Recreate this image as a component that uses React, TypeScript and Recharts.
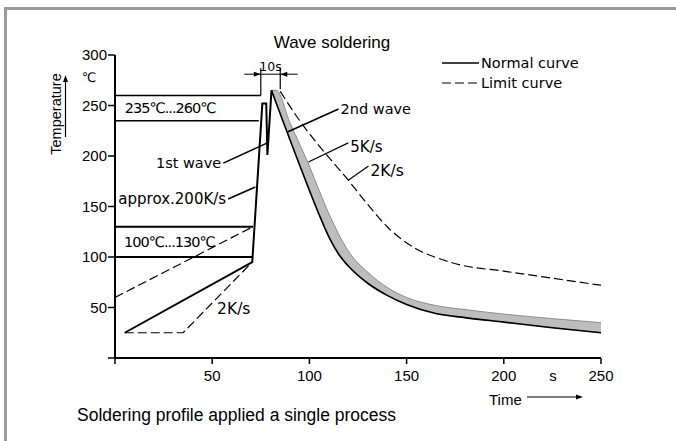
import React from 'react';
import { ComposedChart, Line, Area, XAxis, YAxis, ReferenceLine, ReferenceDot } from 'recharts';

// normal curve: preheat ramp, 1st wave spike, 2nd wave peak
const heatT = [5, 70.6, 75.8, 77.8, 78.4, 80.5];
const heatV = [25, 95, 252, 252, 201, 265];

// cooling band (lower edge = normal curve)
const bandT = [80.5, 83, 90, 100, 105, 110, 115, 120, 130, 140, 150, 165, 180, 200, 225, 250];
const bandLow = [265, 252, 216, 166, 142, 120, 103, 91, 74, 62, 53, 44, 40, 35.5, 30, 25];
const bandHigh = [265, 265, 233, 190, 166, 143, 123, 106, 85, 70, 60, 52, 48, 43.5, 39, 35];

// limit curves (dashed)
const limitPreT = [0, 71];
const limitPreV = [60, 130];
const limitLowT = [5, 35, 70.6];
const limitLowV = [25, 25, 95];
const limitCoolT = [85, 95, 105, 120, 130, 140, 155, 169, 178, 200, 225, 250];
const limitCoolV = [264, 235, 210, 176, 152, 130, 108, 97, 92, 86, 79, 72];

const xTicks = [0, 50, 100, 150, 200, 250];
const yTicks = [0, 50, 100, 150, 200, 250, 300];

const toRows = (ts: number[], vs: number[]) => ts.map((t, i) => ({ t, v: vs[i] }));
const heatData = toRows(heatT, heatV);
const coolData = toRows(bandT, bandLow);
const bandData = bandT.map((t, i) => ({ t, v: [bandLow[i], bandHigh[i]] }));
const limitPre = toRows(limitPreT, limitPreV);
const limitLow = toRows(limitLowT, limitLowV);
const limitCool = toRows(limitCoolT, limitCoolV);

const TECH = 'DejaVu Sans, sans-serif';
const ARIAL = 'Liberation Sans, Arial, sans-serif';
const DASH = '9 4';

function arrowHead(x1: number, y1: number, x2: number, y2: number, len = 7, half = 2.5) {
  const a = Math.atan2(y2 - y1, x2 - x1);
  const bx = x2 - len * Math.cos(a);
  const by = y2 - len * Math.sin(a);
  const px = -Math.sin(a) * half;
  const py = Math.cos(a) * half;
  return `${x2},${y2} ${bx + px},${by + py} ${bx - px},${by - py}`;
}

const ArrowLine = (p: any) => (
  <g>
    <line x1={p.x1} y1={p.y1} x2={p.x2} y2={p.y2} stroke="#000" strokeWidth={1} />
    <polygon points={arrowHead(p.x1, p.y1, p.x2, p.y2)} fill="#000" />
  </g>
);

const seg = (x1: number, y1: number, x2: number, y2: number) => [{ x: x1, y: y1 }, { x: x2, y: y2 }];

const note = (x: number, y: number, text: string, position: 'left' | 'right' | 'top', fontSize = 14.5, letterSpacing = 0) => (
  <ReferenceDot
    key={text + x}
    x={x}
    y={y}
    r={0}
    fill="none"
    stroke="none"
    ifOverflow="visible"
    label={{ value: text, position, offset: 2, fontSize, letterSpacing, fill: '#000', fontFamily: TECH }}
  />
);

export default function App() {
  return (
    <div style={{ position: 'absolute', left: 0, top: 0, width: 676, height: 441, background: '#fff' }}>
      <ComposedChart width={676} height={441} margin={{ top: 55, right: 75, left: 75, bottom: 53 }}>
        <XAxis
          type="number"
          dataKey="t"
          domain={[0, 250]}
          ticks={xTicks}
          allowDataOverflow
          height={30}
          tickSize={6}
          tickMargin={6}
          tickFormatter={(v) => (v === 0 ? '' : String(v))}
          axisLine={{ stroke: '#000', strokeWidth: 2 }}
          tickLine={{ stroke: '#000', strokeWidth: 1.5 }}
          tick={{ fill: '#000', fontSize: 15, fontFamily: ARIAL }}
        />
        <YAxis
          type="number"
          domain={[0, 300]}
          ticks={yTicks}
          width={40}
          tickSize={7}
          tickMargin={1}
          tickFormatter={(v) => (v === 0 ? '' : String(v))}
          axisLine={{ stroke: '#000', strokeWidth: 2 }}
          tickLine={{ stroke: '#000', strokeWidth: 1.5 }}
          tick={{ fill: '#000', fontSize: 15, fontFamily: ARIAL }}
        />

        {/* temperature windows */}
        <ReferenceLine segment={seg(0, 260, 75, 260)} stroke="#000" strokeWidth={1.5} ifOverflow="visible" />
        <ReferenceLine segment={seg(0, 235, 74, 235)} stroke="#000" strokeWidth={1.5} ifOverflow="visible" />
        <ReferenceLine segment={seg(0, 130, 71, 130)} stroke="#000" strokeWidth={2} ifOverflow="visible" />
        <ReferenceLine segment={seg(0, 100, 70.6, 100)} stroke="#000" strokeWidth={2} ifOverflow="visible" />

        {/* 10s dimension */}
        <ReferenceLine segment={seg(75, 260, 75, 287)} stroke="#000" strokeWidth={1.2} ifOverflow="visible" />
        <ReferenceLine segment={seg(85, 266, 85, 287)} stroke="#000" strokeWidth={1.2} ifOverflow="visible" />
        <ReferenceLine segment={seg(75, 281, 85, 281)} stroke="#000" strokeWidth={1} ifOverflow="visible" />
        <ReferenceLine segment={seg(66.5, 281, 75, 281)} shape={ArrowLine} ifOverflow="visible" />
        <ReferenceLine segment={seg(94, 281, 85, 281)} shape={ArrowLine} ifOverflow="visible" />

        <Area data={bandData} dataKey="v" type="monotone" fill="#bdbdbd" fillOpacity={1} stroke="#7a7a7a" strokeWidth={0.8} isAnimationActive={false} />

        <Line data={limitPre} dataKey="v" type="linear" stroke="#000" strokeWidth={1.2} strokeDasharray={DASH} dot={false} isAnimationActive={false} />
        <Line data={limitLow} dataKey="v" type="linear" stroke="#000" strokeWidth={1.2} strokeDasharray={DASH} dot={false} isAnimationActive={false} />
        <Line data={limitCool} dataKey="v" type="monotone" stroke="#000" strokeWidth={1.2} strokeDasharray={DASH} dot={false} isAnimationActive={false} />

        <Line data={heatData} dataKey="v" type="linear" stroke="#000" strokeWidth={2} dot={false} isAnimationActive={false} />
        <Line data={coolData} dataKey="v" type="monotone" stroke="#000" strokeWidth={1.6} dot={false} isAnimationActive={false} />

        {/* leader lines */}
        <ReferenceLine segment={seg(55.7, 193, 78.4, 213)} stroke="#000" strokeWidth={1.5} ifOverflow="visible" />
        <ReferenceLine segment={seg(58.2, 157.4, 72.2, 169.3)} stroke="#000" strokeWidth={1.5} ifOverflow="visible" />
        <ReferenceLine segment={seg(115, 246.5, 88.7, 223.8)} stroke="#000" strokeWidth={1.5} ifOverflow="visible" />
        <ReferenceLine segment={seg(120, 213, 99.5, 194)} stroke="#000" strokeWidth={1.2} ifOverflow="visible" />
        <ReferenceLine segment={seg(130.4, 190, 120, 176)} stroke="#000" strokeWidth={1.2} ifOverflow="visible" />

        {note(4, 247.5, '235℃...260℃', 'right', 14.5, -1)}
        {note(3.6, 115, '100℃...130℃', 'right', 14.5, -1)}
        {note(55.7, 193, '1st wave', 'left')}
        {note(58.2, 157.4, 'approx.200K/s', 'left', 15)}
        {note(51.5, 49.5, '2K/s', 'right', 15.5)}
        {note(115, 246.5, '2nd wave', 'right')}
        {note(120, 209, '5K/s', 'right', 15)}
        {note(130.4, 186, '2K/s', 'right', 15.5)}
        {note(80, 282, '10s', 'top', 12.5)}
      </ComposedChart>

      <svg width={676} height={441} style={{ position: 'absolute', left: 0, top: 0, pointerEvents: 'none' }}>
        <rect x={4} y={7} width={672} height={3} fill="#9a9a9a" />
        <rect x={4} y={7} width={3} height={434} fill="#9a9a9a" />

        <text x={332} y={48} textAnchor="middle" fontSize={17} fontFamily={ARIAL}>Wave soldering</text>

        <line x1={442} y1={63} x2={479} y2={63} stroke="#000" strokeWidth={1.5} />
        <text x={481} y={68} fontSize={14.5} fontFamily={TECH}>Normal curve</text>
        <line x1={442} y1={83} x2={479} y2={83} stroke="#000" strokeWidth={1.2} strokeDasharray={DASH} />
        <text x={481} y={88} fontSize={14.5} fontFamily={TECH}>Limit curve</text>

        <text x={89} y={82} textAnchor="middle" fontSize={13} fontFamily={TECH}>℃</text>
        <text x={56} y={114} textAnchor="middle" dominantBaseline="central" fontSize={14.5} fontFamily={ARIAL} transform="rotate(-90 56 114)">Temperature</text>
        <line x1={65.5} y1={137} x2={65.5} y2={80} stroke="#000" strokeWidth={1.2} />
        <polygon points={arrowHead(65.5, 137, 65.5, 75)} fill="#000" />

        <text x={553} y={381} textAnchor="middle" fontSize={15} fontFamily={ARIAL}>s</text>
        <text x={489} y={405} fontSize={15} fontFamily={ARIAL}>Time</text>
        <line x1={527} y1={397} x2={577} y2={397} stroke="#000" strokeWidth={1.2} />
        <polygon points={arrowHead(527, 397, 583, 397)} fill="#000" />

        <text x={77} y={421} fontSize={17.5} fontFamily={ARIAL}>Soldering profile applied a single process</text>
      </svg>
    </div>
  );
}
